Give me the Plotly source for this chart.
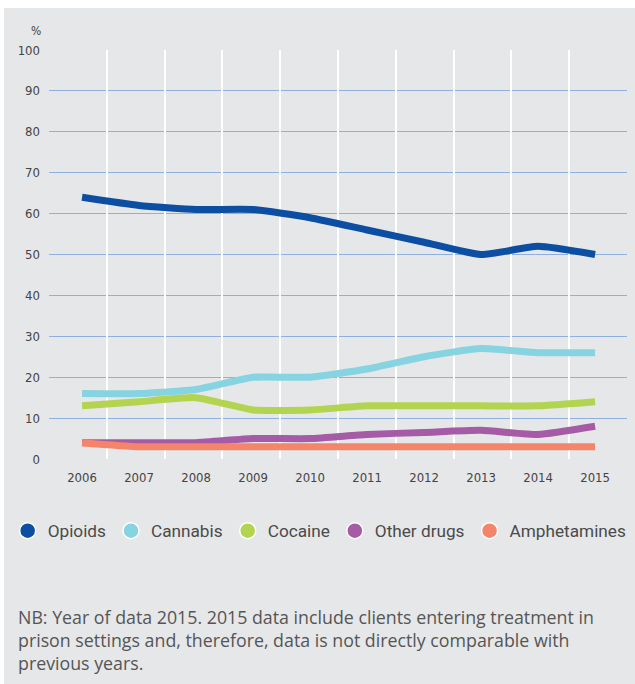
import plotly.graph_objects as go

years = [2006, 2007, 2008, 2009, 2010, 2011, 2012, 2013, 2014, 2015]
opioids = [64, 62, 61, 61, 59, 56, 53, 50, 52, 50]
cannabis = [16, 16, 17, 20, 20, 22, 25, 27, 26, 26]
cocaine = [13, 14, 15, 12, 12, 13, 13, 13, 13, 14]
other_drugs = [4, 4, 4, 5, 5, 6, 6.5, 7, 6, 8]
amphetamines = [4, 3, 3, 3, 3, 3, 3, 3, 3, 3]
y_ticks = list(range(0, 101, 10))

series = [
    ("Opioids", opioids, "#0B4EA2"),
    ("Cannabis", cannabis, "#86D3E1"),
    ("Cocaine", cocaine, "#B2D450"),
    ("Other drugs", other_drugs, "#A65BA6"),
    ("Amphetamines", amphetamines, "#F4846A"),
]

COND = "Liberation Sans Narrow, DejaVu Sans Condensed, sans-serif"
SANS = "Roboto, Noto Sans, sans-serif"
NOTE = "Open Sans, Noto Sans, sans-serif"

fig = go.Figure()
for name, vals, col in series:
    fig.add_trace(go.Scatter(
        x=years, y=vals, mode="lines", name=name, showlegend=False,
        line=dict(color=col, width=7, shape="spline", smoothing=0.5),
        hoverinfo="skip",
    ))
for name, vals, col in series:
    fig.add_trace(go.Scatter(
        x=[None], y=[None], mode="markers", name=name,
        marker=dict(color=col, size=18, symbol="circle", line=dict(color="white", width=1.5)),
    ))
fig.add_trace(go.Scatter(x=[0, 10], y=[None, None], xaxis="x2", showlegend=False, hoverinfo="skip"))

fig.update_layout(
    width=635, height=684,
    margin=dict(l=49, r=8, t=50, b=225),
    paper_bgcolor="white",
    plot_bgcolor="rgba(0,0,0,0)",
    xaxis=dict(
        range=[2005.42, 2015.56], tickmode="array", tickvals=years,
        ticktext=[str(y) for y in years], showgrid=False, zeroline=False,
        ticks="", tickfont=dict(family=COND, size=13, color="#444444"),
        ticklabelstandoff=9,
    ),
    xaxis2=dict(
        range=[0, 10], overlaying="x", dtick=1, showgrid=True, gridcolor="white",
        gridwidth=1.5, showticklabels=False, zeroline=False, ticks="",
    ),
    yaxis=dict(
        range=[0, 100], tickvals=y_ticks, showgrid=True, gridcolor="#8DB0DE",
        gridwidth=1.2, zeroline=False, ticks="",
        tickfont=dict(family=COND, size=13, color="#444444"),
        ticklabelstandoff=8,
    ),
    legend=dict(
        orientation="h", x=-0.0715, xanchor="left", y=-0.176, yanchor="middle",
        font=dict(family=SANS, size=17.2, color="#4A4A4A"),
        bgcolor="rgba(0,0,0,0)", itemclick=False, traceorder="normal",
    ),
    showlegend=True,
    shapes=[dict(
        type="rect", xref="paper", yref="paper", layer="below",
        x0=(4 - 49) / 578, x1=(636 - 49) / 578,
        y0=(459 - 685) / 409, y1=(459 - 8) / 409,
        fillcolor="#E6E7E8", line=dict(width=0),
    )],
    annotations=[
        dict(text="%", xref="paper", yref="paper", x=(36 - 49) / 578, y=(459 - 31) / 409,
             showarrow=False, xanchor="center", yanchor="middle",
             font=dict(family=COND, size=12, color="#444444")),
        dict(text="NB: Year of data 2015. 2015 data include clients entering treatment in<br>"
                  "prison settings and, therefore, data is not directly comparable with<br>"
                  "previous years.",
             xref="paper", yref="paper", x=(16 - 49) / 578, y=(459 - 603) / 409,
             xanchor="left", yanchor="top", align="left", showarrow=False,
             font=dict(family=NOTE, size=17.8, color="#555555")),
    ],
)

fig.write_html("out.html", config={"displayModeBar": False},
               post_script="document.body.style.margin='0';document.body.style.overflow='hidden';")
